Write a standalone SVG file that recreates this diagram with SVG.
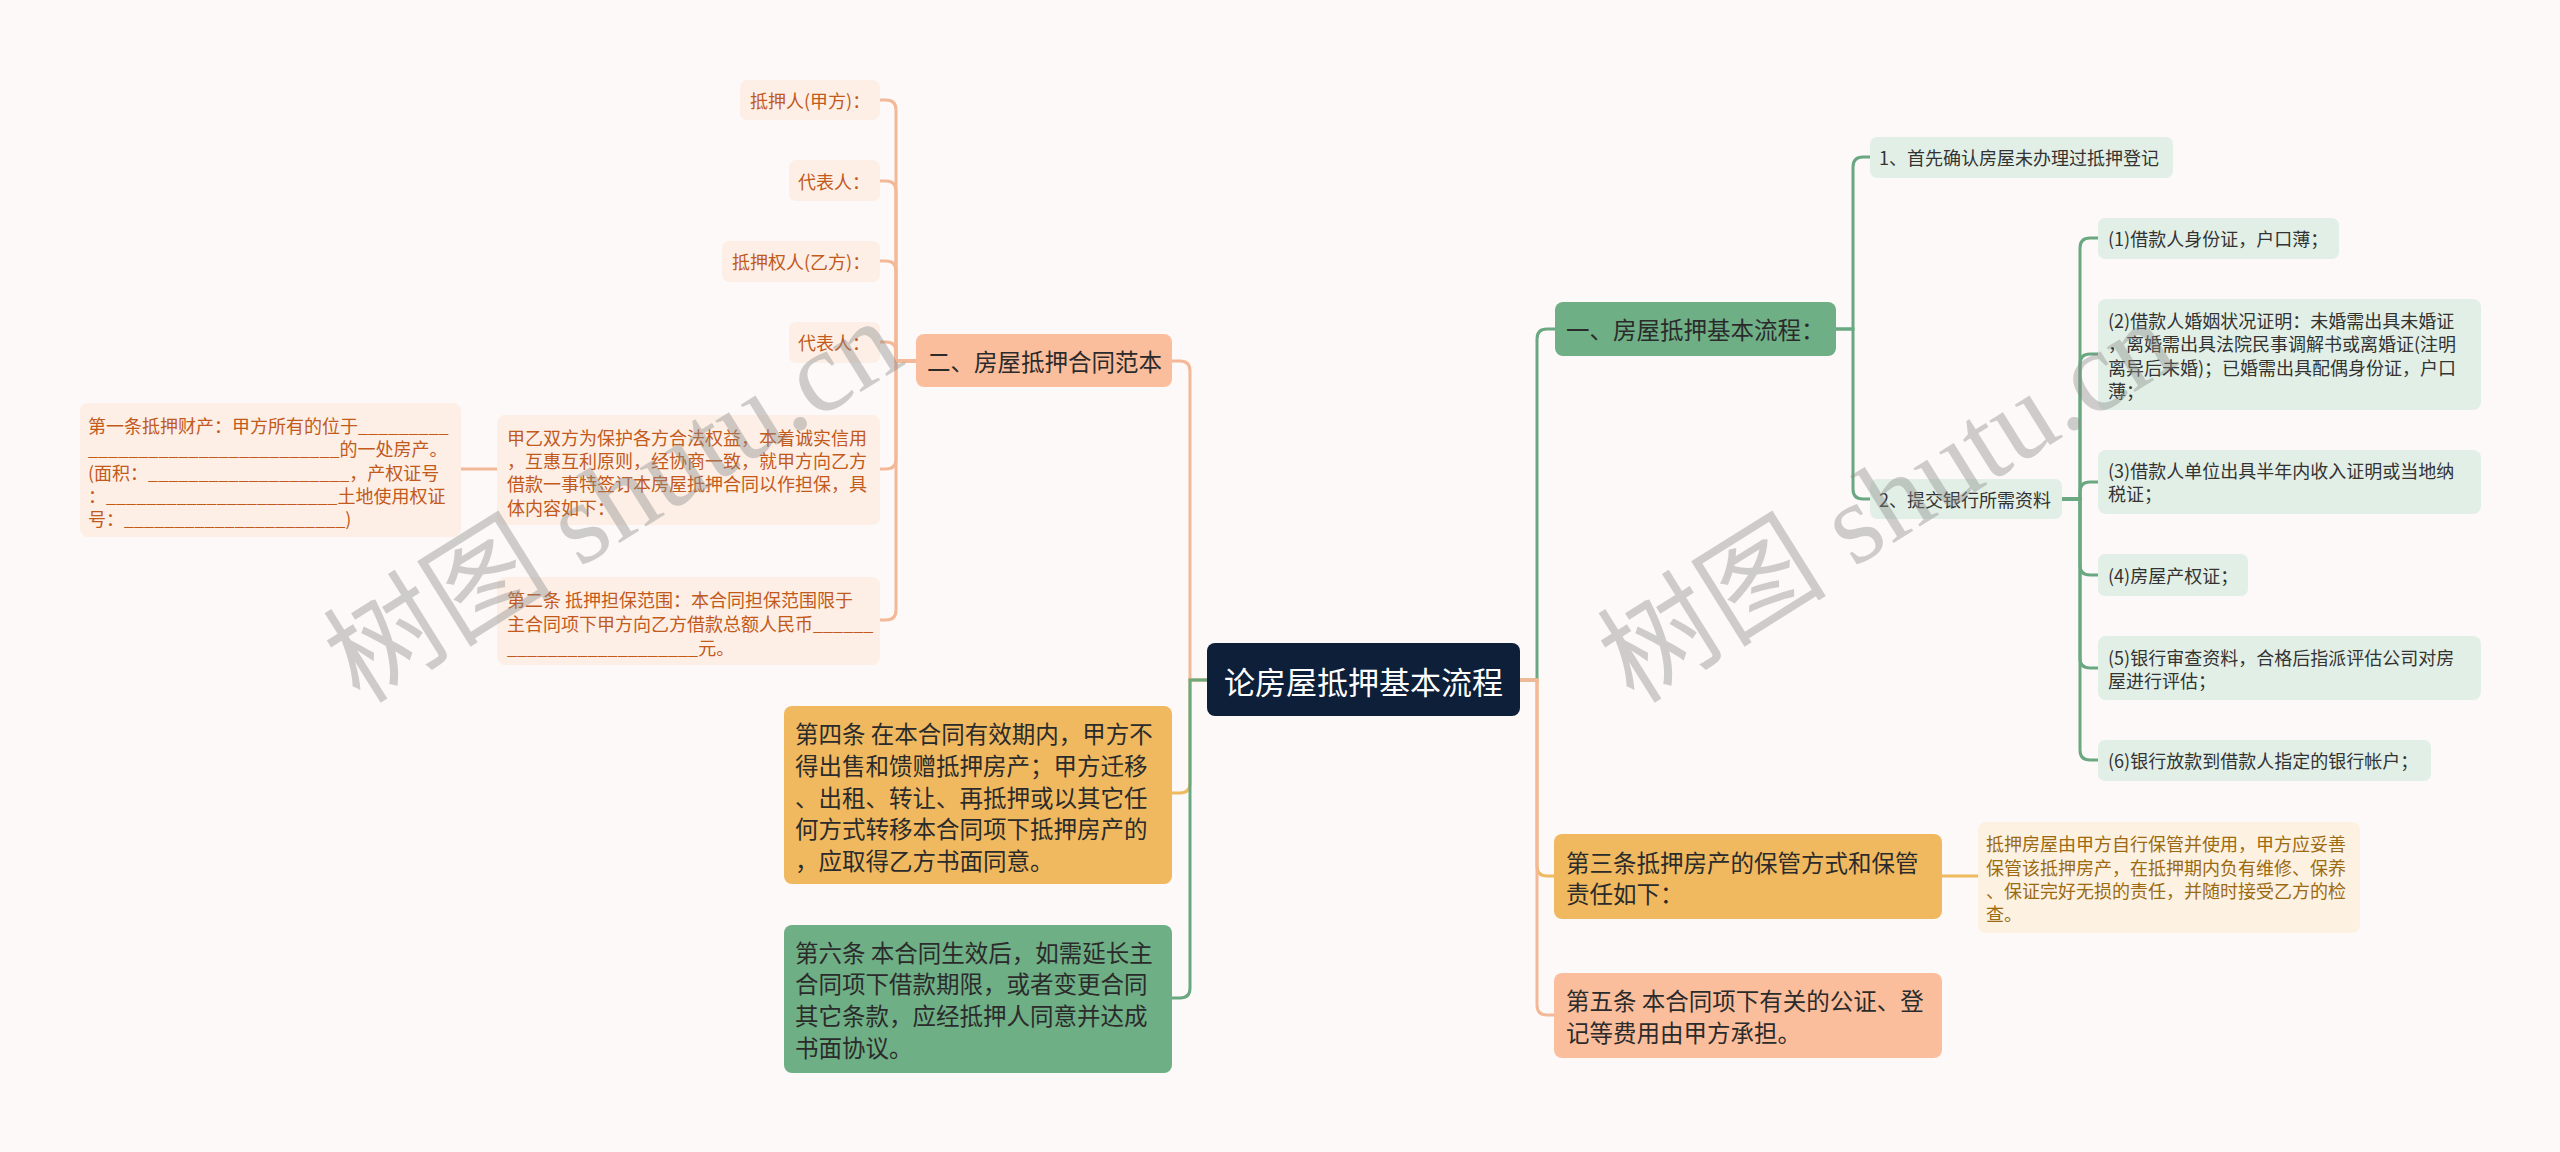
<svg xmlns="http://www.w3.org/2000/svg" width="2560" height="1152" viewBox="0 0 2560 1152">
<style>
text{font-family:"Noto Sans CJK SC","Noto Sans",sans-serif;dominant-baseline:central}
.root{fill:#0e1f3a}
.rt{fill:#ffffff;font-size:31px}
.peach{fill:#fbbe9d}
.yellow{fill:#f0b95f}
.green{fill:#6faf86}
.l1{fill:#2b2b2b;font-size:23.5px}
.lp{fill:#fdefe6}
.lpt{fill:#c25a1c;font-size:18px}
.lg{fill:#e2efe6}
.lgt{fill:#333333;font-size:18px}
.ly{fill:#fdf2e1}
.lyt{fill:#9c6a10;font-size:18px}
.c{fill:none;stroke-width:3;stroke-linecap:round}
.cp{stroke:#f3b897}
.cy{stroke:#eeb95f}
.cg{stroke:#6aa882}
.wm{font-family:"Liberation Serif","Noto Sans CJK SC",serif;font-size:115px;fill:#8a8a8a;opacity:0.4;dominant-baseline:alphabetic}
</style>
<rect x="0" y="0" width="2560" height="1152" fill="#fdf9f8"/>

<g id="connectors">
<path class="c cp" d="M1207 680 H1190 V371 Q1190 361 1180 361 H1172"/>
<path class="c cy" d="M1207 680 H1190 V783 Q1190 793 1180 793 H1172"/>
<path class="c cg" d="M1207 680 H1190 V988 Q1190 998 1180 998 H1172"/>
<path class="c cg" d="M1520 680 H1537 V339 Q1537 329 1547 329 H1555"/>
<path class="c cy" d="M1520 680 H1537 V866 Q1537 876 1547 876 H1554"/>
<path class="c cp" d="M1520 680 H1537 V1005 Q1537 1015 1547 1015 H1554"/>
<path class="c cp" d="M916 361 H896 V110 Q896 100 886 100 H880"/>
<path class="c cp" d="M916 361 H896 V191 Q896 181 886 181 H880"/>
<path class="c cp" d="M916 361 H896 V271 Q896 261 886 261 H880"/>
<path class="c cp" d="M916 361 H896 V352 Q896 342 886 342 H880"/>
<path class="c cp" d="M916 361 H896 V459 Q896 469 886 469 H880"/>
<path class="c cp" d="M916 361 H896 V610 Q896 620 886 620 H880"/>
<path class="c cp" d="M497 469 H461"/>
<path class="c cg" d="M1836 329 H1853 V167 Q1853 157 1863 157 H1870"/>
<path class="c cg" d="M1836 329 H1853 V489 Q1853 499 1863 499 H1870"/>
<path class="c cg" d="M2062 499 H2080 V248 Q2080 238 2090 238 H2098"/>
<path class="c cg" d="M2062 499 H2080 V364 Q2080 354 2090 354 H2098"/>
<path class="c cg" d="M2062 499 H2080 V492 Q2080 482 2090 482 H2098"/>
<path class="c cg" d="M2062 499 H2080 V565 Q2080 575 2090 575 H2098"/>
<path class="c cg" d="M2062 499 H2080 V658 Q2080 668 2090 668 H2098"/>
<path class="c cg" d="M2062 499 H2080 V750 Q2080 760 2090 760 H2098"/>
<path class="c cy" d="M1942 876 H1978"/>
</g>

<g id="root">
<rect class="root" x="1207" y="643" width="313" height="73" rx="8"/>
<text class="rt" x="1363.5" y="680" text-anchor="middle">论房屋抵押基本流程</text>
</g>

<g id="n-er">
<rect class="peach" x="916" y="334" width="256" height="53" rx="8"/>
<text class="l1" x="927" y="361">二、房屋抵押合同范本</text>
</g>
<g id="n-er-1">
<rect class="lp" x="740" y="80" width="140" height="40" rx="7"/>
<text class="lpt" x="750" y="100">抵押人(甲方)：</text>
</g>
<g id="n-er-2">
<rect class="lp" x="789" y="160" width="91" height="41" rx="7"/>
<text class="lpt" x="798" y="181">代表人：</text>
</g>
<g id="n-er-3">
<rect class="lp" x="722" y="241" width="158" height="41" rx="7"/>
<text class="lpt" x="732" y="261">抵押权人(乙方)：</text>
</g>
<g id="n-er-4">
<rect class="lp" x="789" y="322" width="91" height="41" rx="7"/>
<text class="lpt" x="798" y="342">代表人：</text>
</g>
<g id="n-er-5">
<rect class="lp" x="497" y="415" width="383" height="110" rx="8"/>
<text class="lpt" x="507" y="437">甲乙双方为保护各方合法权益，本着诚实信用</text>
<text class="lpt" x="507" y="460">，互惠互利原则，经协商一致，就甲方向乙方</text>
<text class="lpt" x="507" y="483">借款一事特签订本房屋抵押合同以作担保，具</text>
<text class="lpt" x="507" y="507">体内容如下：</text>
</g>
<g id="n-er-5-1">
<rect class="lp" x="80" y="403" width="381" height="134" rx="8"/>
<text class="lpt" x="88" y="425">第一条抵押财产：甲方所有的位于_________</text>
<text class="lpt" x="88" y="448">_________________________的一处房产。</text>
<text class="lpt" x="88" y="472">(面积：____________________，产权证号</text>
<text class="lpt" x="88" y="495">：_______________________土地使用权证</text>
<text class="lpt" x="88" y="518">号：______________________)</text>
</g>
<g id="n-er-6">
<rect class="lp" x="497" y="577" width="383" height="88" rx="8"/>
<text class="lpt" x="507" y="599">第二条 抵押担保范围：本合同担保范围限于</text>
<text class="lpt" x="507" y="623">主合同项下甲方向乙方借款总额人民币______</text>
<text class="lpt" x="507" y="647">___________________元。</text>
</g>

<g id="n-si">
<rect class="yellow" x="784" y="706" width="388" height="178" rx="8"/>
<text class="l1" x="795" y="733">第四条 在本合同有效期内，甲方不</text>
<text class="l1" x="795" y="765">得出售和馈赠抵押房产；甲方迁移</text>
<text class="l1" x="795" y="797">、出租、转让、再抵押或以其它任</text>
<text class="l1" x="795" y="828">何方式转移本合同项下抵押房产的</text>
<text class="l1" x="795" y="860">，应取得乙方书面同意。</text>
</g>
<g id="n-liu">
<rect class="green" x="784" y="925" width="388" height="148" rx="8"/>
<text class="l1" x="795" y="952">第六条 本合同生效后，如需延长主</text>
<text class="l1" x="795" y="983">合同项下借款期限，或者变更合同</text>
<text class="l1" x="795" y="1015">其它条款，应经抵押人同意并达成</text>
<text class="l1" x="795" y="1047">书面协议。</text>
</g>

<g id="n-yi">
<rect class="green" x="1555" y="302" width="281" height="54" rx="8"/>
<text class="l1" x="1566" y="329">一、房屋抵押基本流程：</text>
</g>
<g id="n-yi-1">
<rect class="lg" x="1870" y="137" width="303" height="41" rx="7"/>
<text class="lgt" x="1879" y="157">1、首先确认房屋未办理过抵押登记</text>
</g>
<g id="n-yi-2">
<rect class="lg" x="1870" y="479" width="192" height="40" rx="7"/>
<text class="lgt" x="1879" y="499">2、提交银行所需资料</text>
</g>
<g id="n-yi-2-1">
<rect class="lg" x="2098" y="218" width="241" height="41" rx="7"/>
<text class="lgt" x="2108" y="238">(1)借款人身份证，户口薄；</text>
</g>
<g id="n-yi-2-2">
<rect class="lg" x="2098" y="299" width="383" height="111" rx="8"/>
<text class="lgt" x="2108" y="320">(2)借款人婚姻状况证明：未婚需出具未婚证</text>
<text class="lgt" x="2108" y="343">，离婚需出具法院民事调解书或离婚证(注明</text>
<text class="lgt" x="2108" y="367">离异后未婚)；已婚需出具配偶身份证，户口</text>
<text class="lgt" x="2108" y="390">薄；</text>
</g>
<g id="n-yi-2-3">
<rect class="lg" x="2098" y="450" width="383" height="64" rx="8"/>
<text class="lgt" x="2108" y="470">(3)借款人单位出具半年内收入证明或当地纳</text>
<text class="lgt" x="2108" y="493">税证；</text>
</g>
<g id="n-yi-2-4">
<rect class="lg" x="2098" y="554" width="150" height="42" rx="7"/>
<text class="lgt" x="2108" y="575">(4)房屋产权证；</text>
</g>
<g id="n-yi-2-5">
<rect class="lg" x="2098" y="636" width="383" height="64" rx="8"/>
<text class="lgt" x="2108" y="657">(5)银行审查资料，合格后指派评估公司对房</text>
<text class="lgt" x="2108" y="680">屋进行评估；</text>
</g>
<g id="n-yi-2-6">
<rect class="lg" x="2098" y="740" width="333" height="41" rx="7"/>
<text class="lgt" x="2108" y="760">(6)银行放款到借款人指定的银行帐户；</text>
</g>

<g id="n-san">
<rect class="yellow" x="1554" y="834" width="388" height="85" rx="8"/>
<text class="l1" x="1566" y="862">第三条抵押房产的保管方式和保管</text>
<text class="l1" x="1566" y="893">责任如下：</text>
</g>
<g id="n-san-1">
<rect class="ly" x="1978" y="822" width="382" height="111" rx="8"/>
<text class="lyt" x="1986" y="843">抵押房屋由甲方自行保管并使用，甲方应妥善</text>
<text class="lyt" x="1986" y="867">保管该抵押房产，在抵押期内负有维修、保养</text>
<text class="lyt" x="1986" y="890">、保证完好无损的责任，并随时接受乙方的检</text>
<text class="lyt" x="1986" y="913">查。</text>
</g>
<g id="n-wu">
<rect class="peach" x="1554" y="973" width="388" height="85" rx="8"/>
<text class="l1" x="1566" y="1000">第五条 本合同项下有关的公证、登</text>
<text class="l1" x="1566" y="1032">记等费用由甲方承担。</text>
</g>

<g id="watermark">
<text class="wm" transform="translate(360 705) rotate(-32)">树图 shutu.cn</text>
<text class="wm" transform="translate(1634 705) rotate(-32)">树图 shutu.cn</text>
</g>
</svg>
